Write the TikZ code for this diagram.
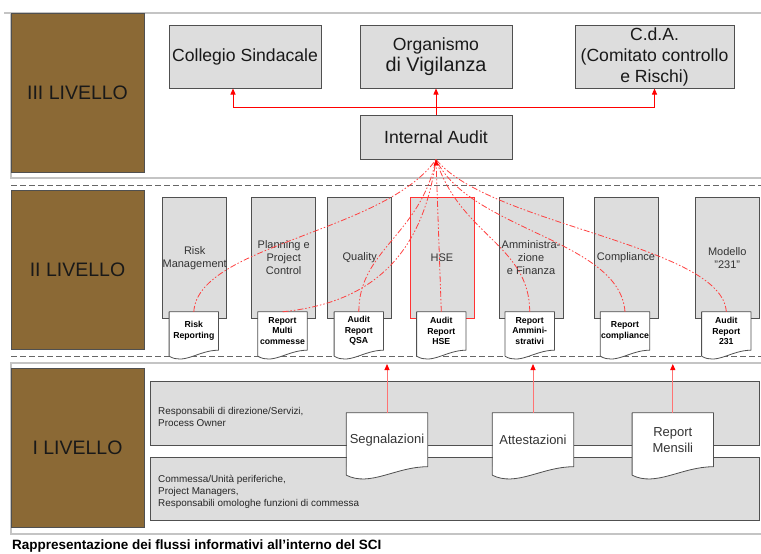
\documentclass[tikz,border=0pt]{standalone}
\usepackage{fontspec}
\setmainfont{Liberation Sans}
\usetikzlibrary{arrows.meta, positioning, calc}

\definecolor{lvbrown}{HTML}{8B6935}
\definecolor{boxgray}{HTML}{DDDDDD}
\definecolor{edgegray}{HTML}{505050}
\definecolor{framegray}{HTML}{C4C4C4}

\begin{document}
\begin{tikzpicture}[
    x=1pt, y=-1pt,
    tierbox/.style={draw=edgegray, fill=lvbrown, line width=0.8pt, minimum width=133pt, minimum height=159pt, inner sep=0pt, font=\fontsize{19.5}{23}\selectfont, text=black!90},
    organ/.style={draw=edgegray, fill=boxgray, line width=1pt, minimum width=152pt, minimum height=63pt, align=center, inner sep=0pt, font=\fontsize{17.6}{21}\selectfont, text=black!90},
    unit/.style={draw=edgegray, fill=boxgray, line width=0.8pt, minimum width=64pt, minimum height=121pt, align=center, inner sep=0pt, text=black!80, font=\fontsize{11}{13}\selectfont},
    report/.style={fill=white, minimum width=49pt, minimum height=38pt, align=center, inner sep=0pt, font=\fontsize{8.7}{10.5}\selectfont\bfseries},
    flow/.style={fill=white, minimum width=81pt, minimum height=53.5pt, align=center, inner sep=0pt, font=\fontsize{13}{16}\selectfont, text=black!80},
    band/.style={draw=edgegray, fill=boxgray, line width=0.8pt, minimum width=609pt, inner sep=0pt},
    bandtext/.style={anchor=west, align=left, inner sep=0pt, font=\fontsize{9.9}{11.8}\selectfont, text=black!85},
    docline/.style={draw=edgegray, line width=0.8pt, line join=round},
    frameline/.style={draw=framegray, line width=1.5pt},
    sepline/.style={draw=black!60, line width=0.8pt, dash pattern=on 6pt off 3pt},
    feed/.style={draw=red!75, line width=0.8pt, dash pattern=on 6pt off 2pt on 1.5pt off 2pt on 1.5pt off 2pt},
    arrow/.style={draw=red, line width=0.8pt, -{Triangle[length=6pt, width=5pt]}},
    uparrow/.style={draw=red!55, line width=1pt, -{Triangle[length=6pt, width=5pt, color=red]}}
]
    \useasboundingbox (0,0) rectangle (761,554);

    % Frames and separators
    \draw[frameline] (4,13) -- (761,13);
    \draw[frameline] (11,13) -- (11,178) -- (761,178);
    \draw[sepline] (11,185) -- (761,185);
    \draw[sepline] (11,356) -- (761,356);
    \draw[frameline] (761,363) -- (11,363) -- (11,534) -- (761,534);

    % Levels
    \node[tierbox] (lv3) at (77.5,92.5) {III LIVELLO};
    \node[tierbox] (lv2) at (77.5,270) {II LIVELLO};
    \node[tierbox] (lv1) at (77.5,447.5) {I LIVELLO};

    % III livello
    \node[organ] (cs) at (245,56.5) {Collegio Sindacale};
    \node[organ] (odv) at (436,56.5) {Organismo\\{\fontsize{19.8}{22}\selectfont di Vigilanza}};
    \node[organ, minimum width=159pt] (cda) at (654.5,56.5) {C.d.A.\\(Comitato controllo\\e Rischi)};
    \node[organ, minimum height=44pt] (ia) at (436,137) {Internal Audit};

    \draw[arrow] (ia.north) -- (odv.south);
    \draw[arrow] (ia.north) -- ++(0,-7) -| ([xshift=-12pt]cs.south);
    \draw[arrow] (ia.north) -- ++(0,-7) -| (cda.south);

    % II livello
    \node[unit] (rm) at (194.7,257.7) {Risk\\Management};
    \node[unit] (ppc) at (283.7,257.7) {Planning e\\Project\\Control};
    \node[unit] (qual) at (359.7,257.7) {Quality};
    \node[unit, draw=red!80] (hse) at (442,257.7) {HSE};
    \node[unit] (amf) at (531,257.7) {Amministra-\\zione\\e Finanza};
    \node[unit] (comp) at (626,257.7) {Compliance};
    \node[unit] (m231) at (727.3,257.7) {Modello\\"231"};

    \node[report] (drr) at (193.8,331) {Risk\\Reporting};
    \node[report] (dmc) at (282.5,331) {Report\\Multi\\commesse};
    \node[report] (dqsa) at (358.8,331) {Audit\\Report\\QSA};
    \node[report] (dhse) at (441.3,331) {Audit\\Report\\HSE};
    \node[report] (dam) at (529.7,331) {Report\\Ammini-\\strativi};
    \node[report] (dcomp) at (625,331) {Report\\compliance};
    \node[report] (d231) at (726.3,331) {Audit\\Report\\231};

    \foreach \d in {drr, dmc, dqsa, dhse, dam, dcomp, d231}{
        \fill[white] (\d.south east) .. controls +(-20,0) and +(15,9) .. ($(\d.south west)+(0,6)$) -- (\d.south west) -- cycle;
        \draw[docline] ($(\d.south west)+(0,6)$) -- (\d.north west) -- (\d.north east) -- (\d.south east) .. controls +(-20,0) and +(15,9) .. ($(\d.south west)+(0,6)$);
    }

    % Flussi verso Internal Audit
    \draw[feed] (drr.north) .. controls +(4,-67) and +(-51,73) .. (ia.south);
    \draw[feed] (dmc.north) .. controls +(67,-7) and +(-16,116) .. (ia.south);
    \draw[feed] (dqsa.north) .. controls +(0,-62) and +(-16,76) .. (ia.south);
    \draw[feed] (dam.north) .. controls +(0,-67) and +(24,76) .. (ia.south);
    \draw[feed] (dcomp.north) .. controls +(-5,-72) and +(34,71) .. (ia.south);
    \draw[feed] (d231.north) .. controls +(-4,-67) and +(54,66) .. (ia.south);
    \draw[feed, -{Triangle[length=6pt, width=5pt, color=red]}] (dhse.north) -- (ia.south);

    % I livello
    \node[band, minimum height=64pt] (resp) at (454.5,413) {};
    \node[band, minimum height=63.4pt] (comm) at (454.5,489) {};
    \node[bandtext] (resptxt) at (158,417) {Responsabili di direzione/Servizi,\\Process Owner};
    \node[bandtext] (commtxt) at (158,492) {Commessa/Unità periferiche,\\Project Managers,\\Responsabili omologhe funzioni di commessa};

    \node[flow] (seg) at (387,439.75) {Segnalazioni};
    \node[flow] (att) at (533,439.75) {Attestazioni};
    \node[flow] (rmen) at (672.8,439.75) {Report\\Mensili};

    \foreach \d in {seg, att, rmen}{
        \fill[white] (\d.south east) .. controls +(-32,0) and +(24,12) .. ($(\d.south west)+(0,8.5)$) -- (\d.south west) -- cycle;
        \draw[docline] ($(\d.south west)+(0,8.5)$) -- (\d.north west) -- (\d.north east) -- (\d.south east) .. controls +(-32,0) and +(24,12) .. ($(\d.south west)+(0,8.5)$);
    }

    \coordinate (lvIItop) at (0,364);
    \draw[uparrow] (seg.north) -- (seg.north |- lvIItop);
    \draw[uparrow] (att.north) -- (att.north |- lvIItop);
    \draw[uparrow] (rmen.north) -- (rmen.north |- lvIItop);

    % Caption
    \node[anchor=west, inner sep=0pt, font=\fontsize{13.5}{16}\selectfont\bfseries] (caption) at (12,546) {Rappresentazione dei flussi informativi all’interno del SCI};

\end{tikzpicture}
\end{document}
